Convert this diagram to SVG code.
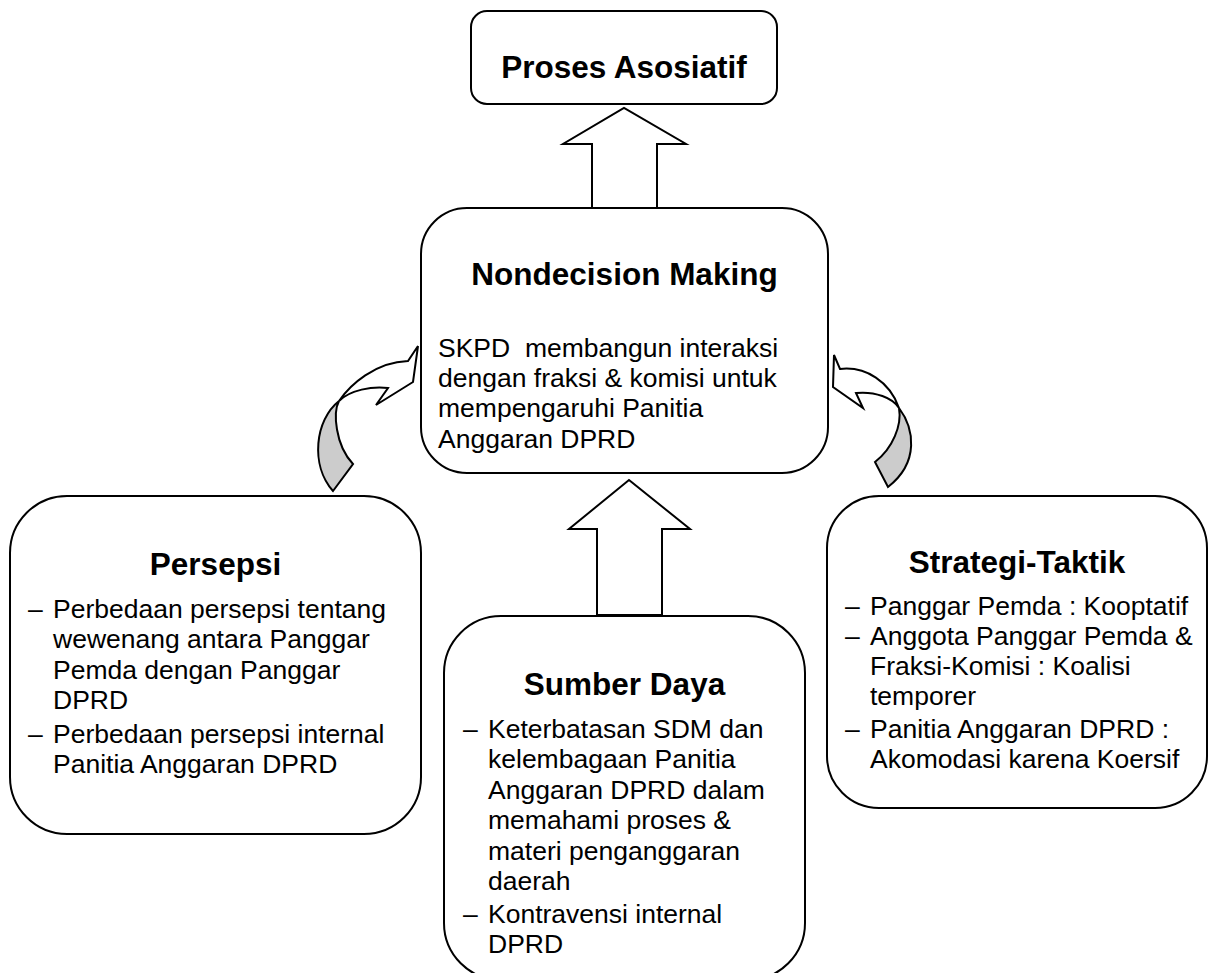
<svg xmlns="http://www.w3.org/2000/svg" width="1208" height="973" viewBox="0 0 1208 973">
  <style>
    .box { fill: #ffffff; stroke: #000000; stroke-width: 2; }
    .blk { fill: #ffffff; stroke: #000000; stroke-width: 2; stroke-linejoin: miter; }
    .shade { fill: #cccccc; stroke: #000000; stroke-width: 2; stroke-linejoin: miter; }
    .title { font-family: "Liberation Sans", Arial, sans-serif; font-weight: bold; font-size: 31.5px; fill: #000000; text-anchor: middle; }
    .body { font-family: "Liberation Sans", Arial, sans-serif; font-size: 26.5px; fill: #000000; }
  </style>
  <rect width="1208" height="973" fill="#ffffff"/>

  <!-- Proses Asosiatif -->
  <g id="proses-asosiatif">
    <rect class="box" x="471" y="11" width="306" height="93" rx="16" ry="16"/>
    <text class="title" x="624" y="78">Proses Asosiatif</text>
  </g>

  <!-- Nondecision Making -->
  <g id="nondecision-making">
    <rect class="box" x="421" y="208" width="407" height="265" rx="46" ry="46"/>
    <text class="title" x="624.5" y="285">Nondecision Making</text>
    <text class="body" x="438" y="357" xml:space="preserve">SKPD  membangun interaksi</text>
    <text class="body" x="438" y="387">dengan fraksi &amp; komisi untuk</text>
    <text class="body" x="438" y="417">mempengaruhi Panitia</text>
    <text class="body" x="438" y="448">Anggaran DPRD</text>
  </g>

  <!-- Persepsi -->
  <g id="persepsi">
    <rect class="box" x="10" y="496" width="411" height="338" rx="57" ry="57"/>
    <text class="title" x="215.5" y="575">Persepsi</text>
    <text class="body" x="28" y="618">–</text>
    <text class="body" x="53" y="618">Perbedaan persepsi tentang</text>
    <text class="body" x="53" y="648">wewenang antara Panggar</text>
    <text class="body" x="53" y="679">Pemda dengan Panggar</text>
    <text class="body" x="53" y="709">DPRD</text>
    <text class="body" x="28" y="743">–</text>
    <text class="body" x="53" y="743">Perbedaan persepsi internal</text>
    <text class="body" x="53" y="773">Panitia Anggaran DPRD</text>
  </g>

  <!-- Sumber Daya -->
  <g id="sumber-daya">
    <rect class="box" x="444" y="616" width="361" height="364" rx="57" ry="57"/>
    <text class="title" x="624.5" y="695">Sumber Daya</text>
    <text class="body" x="463" y="738">–</text>
    <text class="body" x="488" y="738">Keterbatasan SDM dan</text>
    <text class="body" x="488" y="768">kelembagaan Panitia</text>
    <text class="body" x="488" y="799">Anggaran DPRD dalam</text>
    <text class="body" x="488" y="829">memahami proses &amp;</text>
    <text class="body" x="488" y="860">materi penganggaran</text>
    <text class="body" x="488" y="890">daerah</text>
    <text class="body" x="463" y="923">–</text>
    <text class="body" x="488" y="923">Kontravensi internal</text>
    <text class="body" x="488" y="953">DPRD</text>
  </g>

  <!-- Strategi-Taktik -->
  <g id="strategi-taktik">
    <rect class="box" x="827" y="496" width="380" height="312" rx="52" ry="52"/>
    <text class="title" x="1017" y="573">Strategi-Taktik</text>
    <text class="body" x="845" y="615">–</text>
    <text class="body" x="870" y="615">Panggar Pemda : Kooptatif</text>
    <text class="body" x="845" y="645">–</text>
    <text class="body" x="870" y="645">Anggota Panggar Pemda &amp;</text>
    <text class="body" x="870" y="675">Fraksi-Komisi : Koalisi</text>
    <text class="body" x="870" y="705">temporer</text>
    <text class="body" x="845" y="738">–</text>
    <text class="body" x="870" y="738">Panitia Anggaran DPRD :</text>
    <text class="body" x="870" y="768">Akomodasi karena Koersif</text>
  </g>

  <!-- Connectors: block arrows and curved arrows -->
  <g id="connectors">
    <!-- Nondecision Making up to Proses Asosiatif -->
    <polygon class="blk" points="592,208 592,144 563,144 624,108 686,144 657,144 657,208"/>
    <!-- Sumber Daya up to Nondecision Making -->
    <polygon class="blk" points="597,615 597,529 569,529 629,480 690,529 662,529 662,615"/>

    <!-- Persepsi curving into Nondecision Making -->
    <path class="shade" d="M333,491 C310,465 315,420 339,401 C333,412 335,445 353,464 Z"/>
    <path class="blk" d="M339,401 C350,385 375,362 408,361 L418,346 L413,382 L376,405 L388,388 C372,386 350,390 339,401 Z"/>

    <!-- Strategi-Taktik curving into Nondecision Making -->
    <path class="shade" d="M899,408 C914,428 920,462 888,487 L875,462 C893,448 902,425 899,408 Z"/>
    <path class="blk" d="M840,369 C866,366 890,382 899,408 C893,398 875,391 856,393 L863,408 L833,387 L834,355 Z"/>
  </g>
</svg>
